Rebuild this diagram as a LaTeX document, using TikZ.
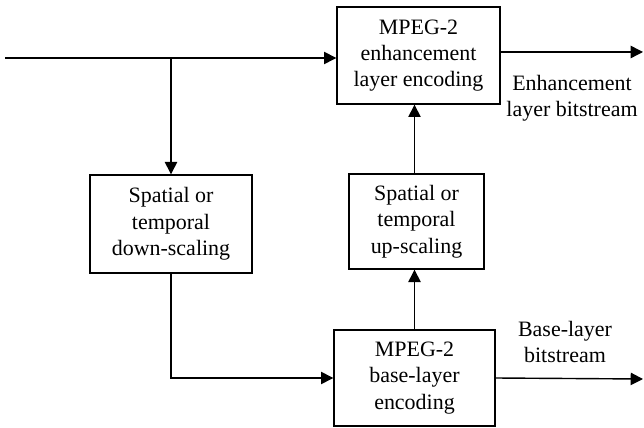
\documentclass[tikz,border=0pt]{standalone}
\usepackage{fontspec}
\setmainfont{Liberation Serif}
\usetikzlibrary{arrows.meta}
\tikzset{
    block/.style={draw, line width=0.8pt, align=center, inner sep=2pt, font=\fontsize{12.5}{15}\selectfont},
    flow/.style={line width=0.8pt, -{Triangle[length=7pt,width=7pt]}},
    txt/.style={align=center, font=\fontsize{12.5}{15}\selectfont}
}
\begin{document}
\begin{tikzpicture}[x=0.02cm, y=-0.02cm]
    \useasboundingbox (0,0) rectangle (644,428);

    %Blocks
    \node[block, minimum width=163*0.02cm, minimum height=97*0.02cm] (enh) at (418.5,55.5) {MPEG-2\\enhancement\\layer encoding};
    \node[block, minimum width=162*0.02cm, minimum height=98*0.02cm] (down) at (171,224) {Spatial or\\temporal\\down-scaling};
    \node[block, minimum width=135*0.02cm, minimum height=95*0.02cm] (up) at (416.5,221.5) {Spatial or\\temporal\\up-scaling};
    \node[block, minimum width=161*0.02cm, minimum height=96*0.02cm] (base) at (414.5,378) {MPEG-2\\base-layer\\encoding};

    %Free ends
    \coordinate (in) at (5,58);
    \coordinate (split) at (171,58);
    \coordinate (enhout) at (643,52);
    \coordinate (baseout) at (643,379);

    %Input and branch
    \draw[flow] (in) -- (in -| enh.west);
    \draw[flow] (split) -- (down.north);
    \draw[flow] (down.south) -- (down.south |- base.west) -- (base.west);

    %Base to enhancement
    \draw[flow] (base.north) -- (up.south -| base.north);
    \draw[flow] (up.north -| base.north) -- (enh.south -| base.north);

    %Outputs
    \draw[flow] (enhout -| enh.east) -- (enhout);
    \draw[flow] (base.east) -- (baseout);

    %Labels
    \node[txt] (enhlbl) at (572,98) {Enhancement\\layer bitstream};
    \node[txt] (baselbl) at (565,342) {Base-layer\\bitstream};
\end{tikzpicture}
\end{document}
